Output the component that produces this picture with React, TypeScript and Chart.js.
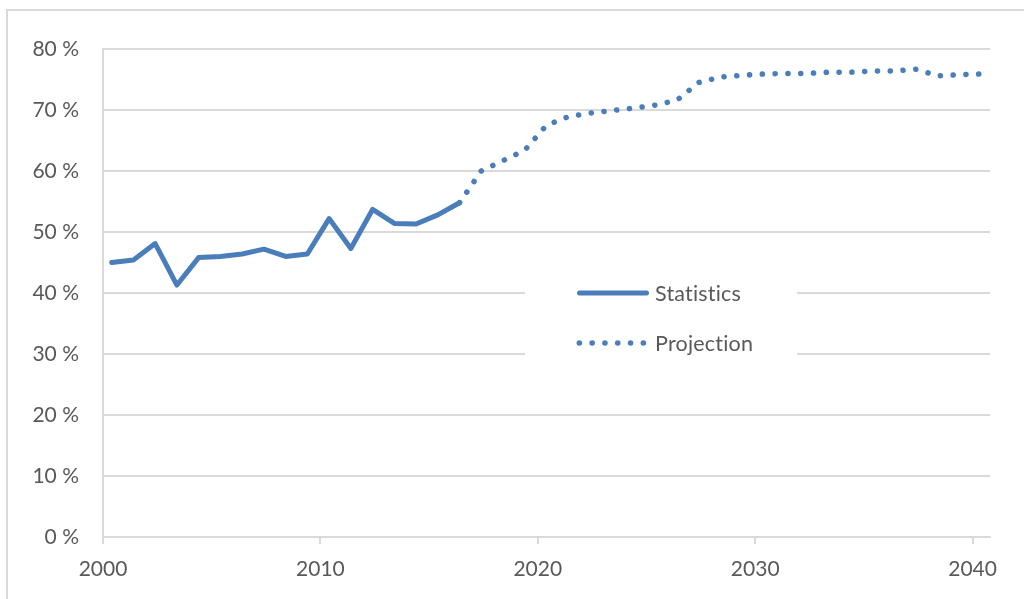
import React, { useEffect, useRef } from "react";
import { Chart, registerables } from "chart.js";

Chart.register(...registerables);

// ---- data ----
const statisticsYears = [2000, 2001, 2002, 2003, 2004, 2005, 2006, 2007, 2008, 2009, 2010, 2011, 2012, 2013, 2014, 2015, 2016];
const statisticsValues = [45.0, 45.4, 48.1, 41.3, 45.8, 46.0, 46.4, 47.2, 46.0, 46.4, 52.2, 47.3, 53.7, 51.4, 51.3, 52.8, 54.8];

const projectionYears = [2016, 2017, 2018, 2019, 2020, 2021, 2022, 2023, 2024, 2025, 2026, 2027, 2028, 2029, 2030, 2031, 2032, 2033, 2034, 2035, 2036, 2037, 2038, 2039, 2040];
const projectionValues = [54.8, 60.0, 61.7, 63.4, 67.5, 68.9, 69.5, 69.9, 70.3, 70.8, 71.6, 74.5, 75.4, 75.7, 75.9, 76.0, 76.0, 76.2, 76.2, 76.4, 76.4, 76.7, 75.6, 75.8, 75.9];

const seriesNames = ["Statistics", "Projection"];
const xTickYears = [2000, 2010, 2020, 2030, 2040];
const yTickValues = [0, 10, 20, 30, 40, 50, 60, 70, 80];

// observations are dated within the year (not at Jan 1)
const POINT_YEAR_OFFSET = 0.4;

const BLUE = "#4a7ebb";
const GRID = "#d9d9d9";
const TEXT = "#595959";
const FONT = "Lato";

const insideLegend = {
  id: "insideLegend",
  beforeDatasetsDraw(chart: any) {
    const ctx = chart.ctx as CanvasRenderingContext2D;
    const rows = [293, 343];
    ctx.save();
    ctx.fillStyle = "#ffffff";
    ctx.fillRect(525, 264, 272, 108);
    chart.data.datasets.forEach((d: any, i: number) => {
      ctx.beginPath();
      ctx.strokeStyle = d.borderColor;
      ctx.lineWidth = d.borderWidth;
      ctx.lineCap = "round";
      ctx.setLineDash(d.borderDash || []);
      if (i === 0) {
        ctx.moveTo(579.5, rows[i]);
        ctx.lineTo(646.5, rows[i]);
      } else {
        ctx.moveTo(579.3, rows[i]);
        ctx.lineTo(644, rows[i]);
      }
      ctx.stroke();
      ctx.setLineDash([]);
      ctx.fillStyle = TEXT;
      ctx.font = `21.5px ${FONT}`;
      try {
        (ctx as any).letterSpacing = "0.2px";
      } catch (e) {}
      ctx.textBaseline = "middle";
      ctx.textAlign = "left";
      ctx.fillText(d.label, 655, rows[i] + 1);
    });
    ctx.restore();
  },
};

export default function App() {
  const canvasRef = useRef<HTMLCanvasElement | null>(null);

  useEffect(() => {
    if (!canvasRef.current) return;
    const statData = statisticsYears.map((y, i) => ({ x: y + POINT_YEAR_OFFSET, y: statisticsValues[i] }));
    const projData = projectionYears.map((y, i) => ({ x: y + POINT_YEAR_OFFSET, y: projectionValues[i] }));

    const chart = new Chart(canvasRef.current, {
      type: "line",
      data: {
        datasets: [
          {
            label: seriesNames[0],
            data: statData,
            borderColor: BLUE,
            backgroundColor: BLUE,
            borderWidth: 5,
            borderCapStyle: "round",
            borderJoinStyle: "round",
            pointRadius: 0,
            tension: 0,
          },
          {
            label: seriesNames[1],
            data: projData,
            borderColor: BLUE,
            backgroundColor: BLUE,
            borderWidth: 5.5,
            borderDash: [0.1, 12.7],
            borderCapStyle: "round",
            borderJoinStyle: "round",
            pointRadius: 0,
            tension: 0,
          },
        ],
      },
      options: {
        responsive: false,
        animation: false,
        layout: { padding: { left: 0, top: 49, right: 34, bottom: 0 } },
        plugins: {
          legend: { display: false },
          tooltip: { enabled: false },
        },
        scales: {
          x: {
            type: "linear",
            min: 2000,
            max: 2040.8,
            afterBuildTicks: (s: any) => {
              s.ticks = xTickYears.map((v) => ({ value: v }));
            },
            afterFit: (s: any) => {
              s.height = 62;
            },
            grid: {
              drawOnChartArea: false,
              drawTicks: true,
              tickLength: 7,
              color: GRID,
              lineWidth: 2,
            },
            border: { display: true, color: GRID, width: 2 },
            ticks: {
              autoSkip: false,
              maxRotation: 0,
              padding: 13,
              color: TEXT,
              font: { family: FONT, size: 21 },
              callback: (v: any) => String(v),
            },
          },
          y: {
            min: 0,
            max: 80,
            afterBuildTicks: (s: any) => {
              s.ticks = yTickValues.map((v) => ({ value: v }));
            },
            afterFit: (s: any) => {
              s.width = 103;
            },
            grid: { color: GRID, lineWidth: 2, drawTicks: false },
            border: { display: true, color: GRID, width: 2 },
            ticks: {
              padding: 24,
              color: TEXT,
              font: { family: FONT, size: 21 },
              callback: (v: any) => `${v} %`,
            },
          },
        },
      },
      plugins: [insideLegend],
    } as any);

    return () => chart.destroy();
  }, []);

  return (
    <div
      style={{
        position: "fixed",
        left: 0,
        top: 0,
        width: 1024,
        height: 599,
        overflow: "hidden",
        background: "#ffffff",
      }}
    >
      <div
        style={{
          position: "absolute",
          left: 6,
          top: 9,
          width: 1100,
          height: 700,
          border: `2px solid ${GRID}`,
        }}
      />
      <canvas
        ref={canvasRef}
        width={1024}
        height={599}
        style={{ position: "absolute", left: 0, top: 0, display: "block" }}
      />
    </div>
  );
}
